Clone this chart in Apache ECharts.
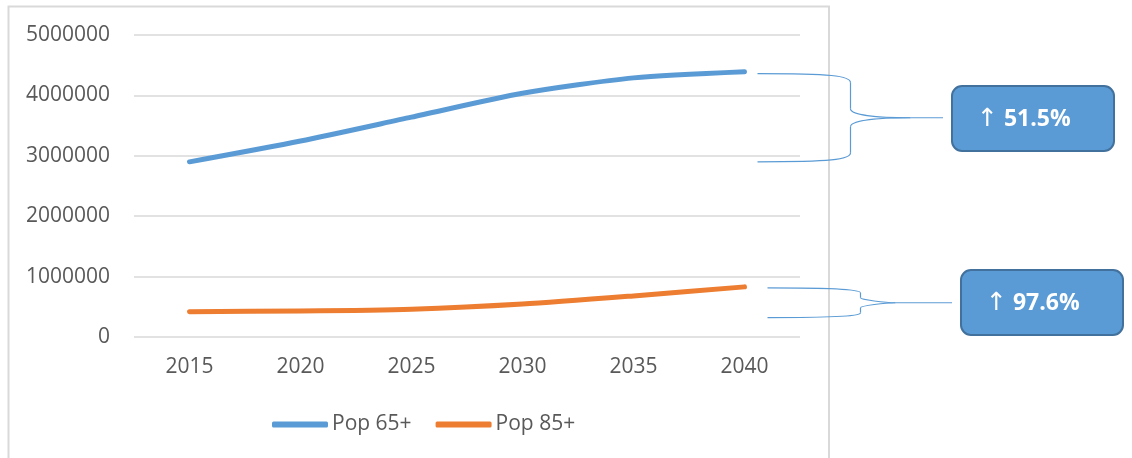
<!DOCTYPE html>
<html>
<head>
<meta charset="utf-8">
<style>
  html, body { margin: 0; padding: 0; background: #ffffff; }
  #chart { width: 1132px; height: 458px; }
</style>
<script src="https://cdn.jsdelivr.net/npm/echarts@6/dist/echarts.min.js"></script>
</head>
<body>
<div id="chart"></div>
<script>
// Projected population by age group
const years = ['2015', '2020', '2025', '2030', '2035', '2040'];
const pop65 = [2900000, 3245000, 3640000, 4035000, 4290000, 4393500];
const pop85 = [420000, 430000, 460000, 545000, 680000, 830000];
const seriesNames = ['Pop 65+', 'Pop 85+'];
const yTicks = [0, 1000000, 2000000, 3000000, 4000000, 5000000];

const BLUE = '#5B9BD5';
const ORANGE = '#ED7D31';
const TEXT = '#595959';
const GRID = '#D9D9D9';
const FONT = '"Open Sans", "Noto Sans", sans-serif';

const chart = echarts.init(document.getElementById('chart'), null, { renderer: 'canvas' });

chart.setOption({
  animation: false,
  backgroundColor: '#ffffff',
  grid: { left: 134, right: 332, top: 35, bottom: 121, containLabel: false },
  legend: {
    left: 267,
    top: 409,
    itemWidth: 56,
    itemHeight: 6,
    itemGap: 24,
    icon: 'roundRect',
    textStyle: { color: TEXT, fontFamily: FONT, fontSize: 21, padding: [0, 0, 0, -1] },
    data: seriesNames
  },
  xAxis: {
    type: 'category',
    data: years,
    boundaryGap: true,
    axisLine: { show: false },
    axisTick: { show: false },
    axisLabel: { color: TEXT, fontFamily: FONT, fontSize: 21, margin: 20 }
  },
  yAxis: {
    type: 'value',
    min: yTicks[0],
    max: yTicks[yTicks.length - 1],
    interval: yTicks[1] - yTicks[0],
    axisLine: { show: false },
    axisTick: { show: false },
    axisLabel: {
      color: TEXT, fontFamily: FONT, fontSize: 21, margin: 24,
      formatter: function (v) { return String(v); }
    },
    splitLine: { lineStyle: { color: GRID, width: 1.5 } }
  },
  series: [
    {
      name: seriesNames[0], type: 'line', data: pop65, smooth: 0.25,
      showSymbol: false, symbol: 'none',
      lineStyle: { color: BLUE, width: 5, cap: 'round', join: 'round' },
      itemStyle: { color: BLUE }
    },
    {
      name: seriesNames[1], type: 'line', data: pop85, smooth: 0.25,
      showSymbol: false, symbol: 'none',
      lineStyle: { color: ORANGE, width: 5, cap: 'round', join: 'round' },
      itemStyle: { color: ORANGE }
    }
  ]
});

// Growth from first to last year, as a percentage
function growthPct(values) {
  const pct = (values[values.length - 1] / values[0] - 1) * 100;
  return pct.toFixed(1) + '%';
}

const braceStyle = { stroke: BLUE, lineWidth: 1.2, fill: null };

function curve(x1, y1, c1x, c1y, c2x, c2y, x2, y2) {
  return {
    type: 'bezierCurve',
    shape: { x1: x1, y1: y1, cpx1: c1x, cpy1: c1y, cpx2: c2x, cpy2: c2y, x2: x2, y2: y2 },
    style: braceStyle,
    silent: true
  };
}

function segment(x1, y1, x2, y2) {
  return {
    type: 'line',
    shape: { x1: x1, y1: y1, x2: x2, y2: y2 },
    style: braceStyle,
    silent: true
  };
}

// Right curly brace spanning the range of a series, with a connector to its callout box
function brace(values, opts) {
  const last = values.length - 1;
  const pTop = chart.convertToPixel({ gridIndex: 0 }, [last, values[last]]);
  const pBot = chart.convertToPixel({ gridIndex: 0 }, [0, values[0]]);
  const xL = pTop[0] + opts.gap;
  const yT = pTop[1] + opts.padTop;
  const yB = pBot[1] + opts.padBottom;
  const xS = xL + opts.spine;
  const yM = (yT + yB) / 2;
  const xT = xS + opts.tip;
  const r = Math.min(9, (yB - yT) / 6);
  return [
    curve(xL, yT, xS - 20, yT, xS, yT + 2, xS, yT + r),
    segment(xS, yT + r, xS, yM - r),
    curve(xS, yM - r, xS, yM - 3, xS + 25, yM, xT, yM),
    segment(xT, yM, opts.boxX, yM),
    curve(xT, yM, xS + 25, yM, xS, yM + 3, xS, yM + r),
    segment(xS, yM + r, xS, yB - r),
    curve(xS, yB - r, xS, yB - 2, xS - 20, yB, xL, yB),
    {
      type: 'rect',
      shape: { x: opts.boxX + 9, y: opts.boxY, width: 162, height: 65, r: 10 },
      style: { fill: BLUE, stroke: '#41719C', lineWidth: 2 },
      silent: true
    },
    {
      type: 'text',
      x: opts.boxX + 34,
      y: opts.boxY + 33,
      style: {
        text: '{a|\u2191} {b|' + growthPct(values) + '}',
        rich: {
          a: { fill: '#ffffff', fontFamily: '"DejaVu Sans", sans-serif', fontSize: 25, fontWeight: 'normal' },
          b: { fill: '#ffffff', fontFamily: FONT, fontSize: 23, fontWeight: 'bold' }
        },
        fill: '#ffffff',
        font: 'bold 23px ' + FONT,
        verticalAlign: 'middle',
        align: 'left'
      },
      silent: true
    }
  ];
}

chart.setOption({
  graphic: [
    {
      type: 'rect',
      shape: { x: 8.5, y: 6.5, width: 820.5, height: 520 },
      style: { fill: null, stroke: GRID, lineWidth: 2 },
      silent: true
    }
  ]
    .concat(brace(pop65, { gap: 13, padTop: 2, padBottom: 0, spine: 93, tip: 60, boxX: 943, boxY: 86 }))
    .concat(brace(pop85, { gap: 23, padTop: 1, padBottom: 6, spine: 93, tip: 35, boxX: 952, boxY: 270 }))
});
</script>
</body>
</html>
